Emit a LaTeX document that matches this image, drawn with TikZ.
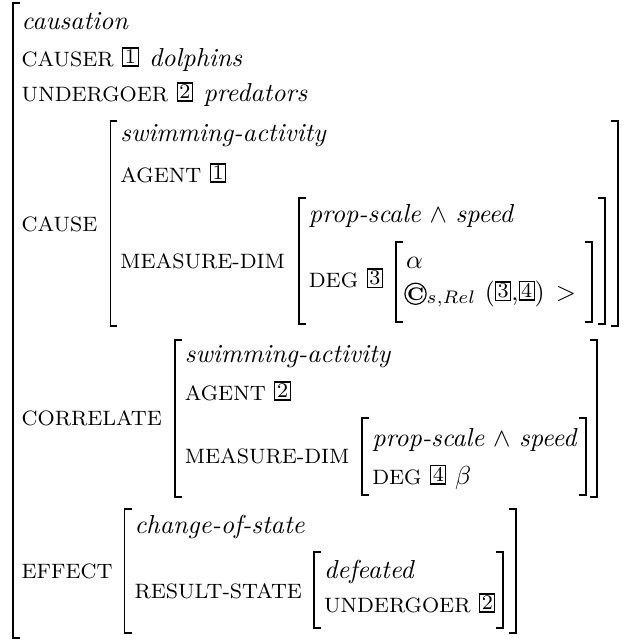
\documentclass[tikz,border=0pt]{standalone}
\usepackage{amssymb}
\usetikzlibrary{calc}
\newcommand\tagbox[1]{\raisebox{0.8pt}{\setlength\fboxsep{0.6pt}\setlength\fboxrule{0.4pt}\fbox{\footnotesize #1}}}
\newcommand\attr[1]{{\fontsize{8}{9.6}\selectfont #1}}
\tikzset{
  avtext/.style={anchor=base west, inner sep=0pt, outer sep=0pt},
  brk/.style={line width=0.7pt, line join=miter},
  circc/.style={circle, draw, line width=0.45pt, inner sep=0pt, minimum size=7.2pt, anchor=base}
}
% left bracket at x of coordinate #1, from y #2 to y #3 (pixel units)
\newcommand\lbrk[3]{\draw[brk] ($(#1 |- 0,#2)+(7,0)$) -- (#1 |- 0,#2) -- (#1 |- 0,#3) -- ($(#1 |- 0,#3)+(7,0)$);}
% right bracket at x of coordinate #1, from y #2 to y #3
\newcommand\rbrkat[3]{\draw[brk] ($(#1 |- 0,#2)+(-7,0)$) -- (#1 |- 0,#2) -- (#1 |- 0,#3) -- ($(#1 |- 0,#3)+(-7,0)$);}
% right bracket at x #1, from y #2 to y #3
\newcommand\rbrk[3]{\draw[brk] (#1-7,#2) -- (#1,#2) -- (#1,#3) -- (#1-7,#3);}
\begin{document}
\begin{tikzpicture}[x=0.3846pt, y=-0.3846pt]
\useasboundingbox (0,0) rectangle (625,641);

% outer matrix (left side only visible)
\coordinate (oB) at (12.7,0);
\lbrk{oB}{3}{638}
\node[avtext] (n1) at (21.7,29) {\textit{causation}};
\node[avtext] (n2) at (21.7,66) {\attr{CAUSER} \tagbox{1}\hspace{4pt}\textit{dolphins}};
\node[avtext] (n3) at (21.7,101) {\attr{UNDERGOER} \tagbox{2}\hspace{4pt}\textit{predators}};

% CAUSE
\node[avtext] (cause) at (21.7,231) {\attr{CAUSE}};
\coordinate (cB) at ($(cause.east)+(13,0)$);
\coordinate (cC) at ($(cause.east)+(23,0)$);
\lbrk{cB}{121}{326}
\rbrk{618}{121}{326}
\node[avtext] (c1) at (cC |- 0,141) {\textit{swimming-activity}};
\node[avtext] (c2) at (cC |- 0,182) {\attr{AGENT} \tagbox{1}};
\node[avtext] (c3) at (cC |- 0,268) {\attr{MEASURE-DIM}};
\coordinate (mB) at ($(c3.east)+(14,0)$);
\coordinate (mC) at ($(c3.east)+(24,0)$);
\lbrk{mB}{198}{324}
\rbrk{605}{198}{324}
\node[avtext] (c4) at (mC |- 0,222) {\textit{prop-scale} $\wedge$ \textit{speed}};
\node[avtext] (c5) at (mC |- 0,287) {\attr{DEG} \tagbox{3}};
\coordinate (iB) at ($(c5.east)+(13,0)$);
\coordinate (iC) at ($(c5.east)+(23,0)$);
\lbrk{iB}{242}{322}
\rbrk{592}{242}{322}
\node[avtext] (c6) at (iC |- 0,268) {$\alpha$};
\node[circc] (cc) at ($(iC |- 0,300)+(9.5,0)$) {\scriptsize\bfseries C};
\node[avtext] (c7) at (cc.base -| cc.east) {$_{s,Rel}$\hspace{3.3pt}(\tagbox{3},\tagbox{4})\hspace{4.2pt}$>$};

% CORRELATE
\node[avtext] (corr) at (21.7,425) {\attr{CORRELATE}};
\coordinate (rB) at ($(corr.east)+(13,0)$);
\coordinate (rC) at ($(corr.east)+(23,0)$);
\lbrk{rB}{340}{497}
\rbrk{597}{340}{497}
\node[avtext] (r1) at (rC |- 0,362) {\textit{swimming-activity}};
\node[avtext] (r2) at (rC |- 0,400) {\attr{AGENT} \tagbox{2}};
\node[avtext] (r3) at (rC |- 0,463) {\attr{MEASURE-DIM}};
\coordinate (sB) at ($(r3.east)+(13,0)$);
\coordinate (sC) at ($(r3.east)+(23,0)$);
\lbrk{sB}{418}{495}
\rbrk{586}{418}{495}
\node[avtext] (r4) at (sC |- 0,446) {\textit{prop-scale} $\wedge$ \textit{speed}};
\node[avtext] (r5) at (sC |- 0,484) {\attr{DEG} \tagbox{4} $\beta$};

% EFFECT
\node[avtext] (eff) at (21.7,578) {\attr{EFFECT}};
\coordinate (eB) at ($(eff.east)+(12,0)$);
\coordinate (eC) at ($(eff.east)+(22,0)$);
\lbrk{eB}{509}{633}
\node[avtext] (e1) at (eC |- 0,533) {\textit{change-of-state}};
\node[avtext] (e2) at (eC |- 0,598) {\attr{RESULT-STATE}};
\coordinate (tB) at ($(e2.east)+(12,0)$);
\coordinate (tC) at ($(e2.east)+(22,0)$);
\lbrk{tB}{552}{628}
\node[avtext] (e3) at (tC |- 0,578) {\textit{defeated}};
\node[avtext] (e4) at (tC |- 0,612) {\attr{UNDERGOER} \tagbox{2}};
\coordinate (tR) at ($(e4.east)+(8,0)$);
\coordinate (eR) at ($(tR)+(12.5,0)$);
\rbrkat{tR}{552}{628}
\rbrkat{eR}{509}{633}
\end{tikzpicture}
\end{document}
